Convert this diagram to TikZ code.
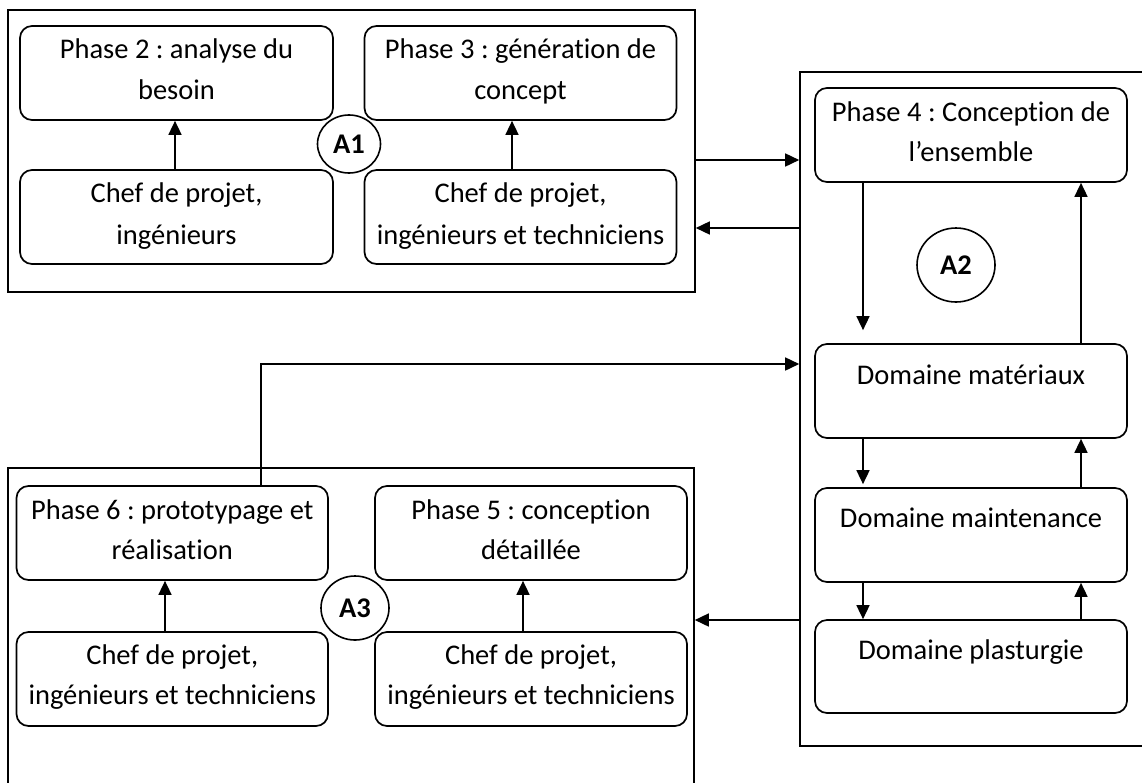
\documentclass[tikz,border=0pt]{standalone}
\usepackage{fontspec}
\setmainfont{Carlito}[Ligatures={NoCommon}]
\frenchspacing
\usetikzlibrary{arrows.meta,shapes.geometric,calc}
\tikzset{
  outerbox/.style={draw, rectangle, line width=1.6pt, inner sep=0pt},
  box/.style={draw, rectangle, rounded corners=12pt, line width=1.7pt, inner sep=0pt, minimum height=94pt},
  lbl/.style={font=\fontsize{28.5}{40}\selectfont, anchor=base, inner sep=0pt},
  tag/.style={draw, ellipse, line width=1.6pt, inner sep=0pt, font=\fontsize{28.5}{34}\selectfont\bfseries},
  arr/.style={-{Triangle[length=14pt,width=13pt]}, line width=1.6pt},
}
\begin{document}
\begin{tikzpicture}[x=1pt,y=-1pt]
\useasboundingbox (0,0) rectangle (1142,782);
\fill[white] (0,0) rectangle (1142,782);

% outer boxes
\node[outerbox, minimum width=687pt, minimum height=282pt] (a1) at (351.5,151) {};
\node[outerbox, minimum width=345pt, minimum height=674pt] (a2) at (972.5,409) {};
\node[outerbox, minimum width=686pt, minimum height=322pt] (a3) at (351,629) {};

% A1 group
\node[box, minimum width=313pt] (p2) at (176.5,73) {};
\node[box, minimum width=312pt] (p3) at (520.5,73) {};
\node[box, minimum width=313pt] (c2) at (176.5,217) {};
\node[box, minimum width=312pt] (c3) at (520.5,217) {};
\node[tag, minimum width=63pt, minimum height=58pt] (t1) at (349,144) {A1};

\node[lbl] at ([yshift=-33pt]p2.north) {Phase 2 : analyse du};
\node[lbl] at ([yshift=-74pt]p2.north) {besoin};
\node[lbl] at ([yshift=-33pt]p3.north) {Phase 3 : génération de};
\node[lbl] at ([yshift=-74pt]p3.north) {concept};
\node[lbl] at ([yshift=-33pt]c2.north) {Chef de projet,};
\node[lbl] at ([yshift=-75pt]c2.north) {ingénieurs};
\node[lbl] at ([yshift=-33pt]c3.north) {Chef de projet,};
\node[lbl] at ([yshift=-75pt]c3.north) {ingénieurs et techniciens};

\draw[arr] ([xshift=-1.5pt]c2.north) -- ([xshift=-1.5pt]p2.south);
\draw[arr] ([xshift=-8.5pt]c3.north) -- ([xshift=-8.5pt]p3.south);

% A2 group
\node[box, minimum width=312pt] (p4) at (971,135) {};
\node[box, minimum width=312pt] (mat) at (971,391) {};
\node[box, minimum width=312pt] (mai) at (971,535) {};
\node[box, minimum width=312pt, minimum height=93pt] (pla) at (971,666.5) {};
\node[tag, minimum width=78pt, minimum height=74pt] (t2) at (956,265) {A2};

\node[lbl] at ([yshift=-34pt]p4.north) {Phase 4 : Conception de};
\node[lbl] at ([yshift=-74pt]p4.north) {l’ensemble};
\node[lbl] at ([yshift=-41pt]mat.north) {Domaine matériaux};
\node[lbl] at ([yshift=-40pt]mai.north) {Domaine maintenance};
\node[lbl] at ([yshift=-40pt]pla.north) {Domaine plasturgie};

\draw[arr] ([xshift=-108pt]p4.south) -- ([xshift=-108pt,yshift=13pt]mat.north);
\draw[arr] ([xshift=110pt]mat.north) -- ([xshift=110pt]p4.south);
\draw[arr] ([xshift=-108pt]mat.south) -- ([xshift=-108pt,yshift=3pt]mai.north);
\draw[arr] ([xshift=110pt]mai.north) -- ([xshift=110pt]mat.south);
\draw[arr] ([xshift=-108pt]mai.south) -- ([xshift=-108pt]pla.north);
\draw[arr] ([xshift=110pt]pla.north) -- ([xshift=110pt]mai.south);

% A3 group
\node[box, minimum width=311.5pt] (p6) at (172.25,533) {};
\node[box, minimum width=312pt] (p5) at (531,533) {};
\node[box, minimum width=311.5pt] (c6) at (172.25,679) {};
\node[box, minimum width=312pt] (c5) at (531,679) {};
\node[tag, minimum width=68pt, minimum height=64pt] (t3) at (355,608) {A3};

\node[lbl] at ([yshift=-34pt]p6.north) {Phase 6 : prototypage et};
\node[lbl] at ([yshift=-74pt]p6.north) {réalisation};
\node[lbl] at ([yshift=-34pt]p5.north) {Phase 5 : conception};
\node[lbl] at ([yshift=-74pt]p5.north) {détaillée};
\node[lbl] at ([yshift=-33pt]c6.north) {Chef de projet,};
\node[lbl] at ([yshift=-73pt]c6.north) {ingénieurs et techniciens};
\node[lbl] at ([yshift=-33pt]c5.north) {Chef de projet,};
\node[lbl] at ([yshift=-73pt]c5.north) {ingénieurs et techniciens};

\draw[arr] ([xshift=-7.25pt]c6.north) -- ([xshift=-7.25pt]p6.south);
\draw[arr] ([xshift=-8pt]c5.north) -- ([xshift=-8pt]p5.south);

% connectors between groups
\coordinate (h160) at (0,160);
\coordinate (h228) at (0,228);
\coordinate (h364) at (0,364);
\coordinate (h620) at (0,620);
\coordinate (v261) at (261,0);
\draw[arr] (a1.east |- h160) -- (a2.west |- h160);
\draw[arr] (a2.west |- h228) -- (a1.east |- h228);
\draw[arr] (p6.north -| v261) |- (a2.west |- h364);
\draw[arr] (a2.west |- h620) -- (a3.east |- h620);
\end{tikzpicture}
\end{document}
